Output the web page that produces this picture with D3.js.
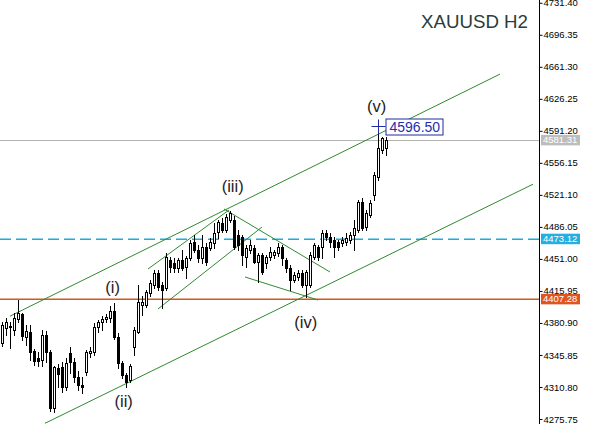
<!DOCTYPE html>
<html>
<head>
<meta charset="utf-8">
<script src="https://cdn.jsdelivr.net/npm/d3@7/dist/d3.min.js"></script>
<style>
  html, body { margin: 0; padding: 0; background: #fff; overflow: hidden; }
  svg { display: block; }
</style>
</head>
<body>
<svg id="chart" width="591" height="424"></svg>
<script>
// XAUUSD, 2-hour bars
const opens = [
  4358.95, 4375.37, 4376.46, 4373.18, 4385.22, 4390.69, 4365.52, 4370.99, 4350.19, 4342.53,
  4340.34, 4367.71, 4349.10, 4287.79, 4331.58, 4332.67, 4310.78, 4348.00, 4338.15, 4321.73,
  4312.97, 4327.20, 4348.00, 4349.10, 4376.46, 4381.94, 4385.22, 4386.32, 4393.98, 4365.52,
  4337.05, 4323.92, 4318.44, 4354.57, 4370.99, 4400.55, 4400.55, 4413.68, 4422.44, 4435.58,
  4422.44, 4419.16, 4449.81, 4446.52, 4441.05, 4449.81, 4442.15, 4452.00, 4469.51, 4460.75,
  4452.00, 4464.04, 4462.94, 4468.42, 4480.46, 4490.31, 4482.65, 4493.60, 4493.60, 4477.18,
  4474.99, 4453.09, 4460.75, 4462.94, 4447.62, 4455.28, 4446.52, 4453.09, 4455.28, 4457.47,
  4464.04, 4449.81, 4441.05, 4427.91, 4431.20, 4435.58, 4422.44, 4422.44, 4453.09, 4464.04,
  4464.04, 4479.36, 4474.99, 4471.70, 4469.51, 4468.42, 4469.51, 4471.70, 4477.18, 4482.65,
  4513.30, 4485.93, 4499.07, 4520.96, 4540.67, 4570.22, 4572.41
];
const highs = [
  4381.94, 4386.32, 4381.94, 4391.79, 4406.02, 4391.79, 4378.65, 4378.65, 4352.38, 4349.10,
  4373.18, 4372.08, 4351.28, 4333.77, 4335.96, 4338.15, 4342.53, 4354.57, 4342.53, 4328.30,
  4321.73, 4351.28, 4354.57, 4380.84, 4384.13, 4388.50, 4390.69, 4399.45, 4402.74, 4369.89,
  4339.24, 4326.11, 4335.96, 4376.46, 4422.44, 4410.40, 4416.97, 4427.91, 4438.86, 4438.86,
  4425.72, 4457.47, 4453.09, 4452.00, 4452.00, 4460.75, 4454.19, 4471.70, 4477.18, 4466.23,
  4477.18, 4468.42, 4473.89, 4490.31, 4493.60, 4495.79, 4500.16, 4503.45, 4497.97, 4482.65,
  4477.18, 4466.23, 4471.70, 4466.23, 4457.47, 4457.47, 4455.28, 4464.04, 4460.75, 4468.42,
  4466.23, 4452.00, 4444.33, 4436.67, 4438.86, 4438.86, 4438.86, 4458.57, 4468.42, 4466.23,
  4482.65, 4482.65, 4479.36, 4474.99, 4471.70, 4474.99, 4479.36, 4480.46, 4493.60, 4515.49,
  4517.68, 4504.54, 4515.49, 4546.14, 4596.50, 4584.46, 4584.46
];
const lows = [
  4355.66, 4367.71, 4353.47, 4367.71, 4381.94, 4362.23, 4356.76, 4340.34, 4334.86, 4333.77,
  4333.77, 4338.15, 4284.51, 4283.41, 4310.78, 4305.31, 4307.50, 4326.11, 4316.25, 4307.50,
  4304.21, 4323.92, 4343.62, 4345.81, 4370.99, 4373.18, 4381.94, 4381.94, 4363.33, 4331.58,
  4320.63, 4310.78, 4316.25, 4345.81, 4369.89, 4389.60, 4398.36, 4410.40, 4419.16, 4416.97,
  4397.26, 4416.97, 4436.67, 4436.67, 4436.67, 4438.86, 4430.10, 4449.81, 4458.57, 4447.62,
  4446.52, 4444.33, 4460.75, 4462.94, 4473.89, 4480.46, 4480.46, 4491.41, 4461.85, 4460.75,
  4444.33, 4442.15, 4457.47, 4446.52, 4425.72, 4434.48, 4441.05, 4449.81, 4452.00, 4454.19,
  4444.33, 4436.67, 4416.97, 4425.72, 4427.91, 4420.25, 4409.30, 4420.25, 4450.90, 4449.81,
  4452.00, 4471.70, 4464.04, 4453.09, 4460.75, 4465.13, 4466.23, 4468.42, 4460.75, 4480.46,
  4482.65, 4482.65, 4496.88, 4515.49, 4537.38, 4566.94, 4564.75
];
const closes = [
  4378.65, 4381.94, 4377.56, 4386.32, 4391.79, 4366.61, 4372.08, 4349.10, 4339.24, 4339.24,
  4367.71, 4349.10, 4287.79, 4332.67, 4325.01, 4310.78, 4337.05, 4338.15, 4321.73, 4312.97,
  4310.78, 4349.10, 4350.19, 4376.46, 4381.94, 4385.22, 4387.41, 4393.98, 4365.52, 4337.05,
  4323.92, 4316.25, 4333.77, 4373.18, 4403.83, 4403.83, 4414.78, 4424.63, 4435.58, 4420.25,
  4416.97, 4453.09, 4442.15, 4441.05, 4449.81, 4441.05, 4452.00, 4468.42, 4460.75, 4452.00,
  4464.04, 4447.62, 4469.51, 4479.36, 4491.41, 4482.65, 4496.88, 4501.26, 4464.04, 4466.23,
  4455.28, 4462.94, 4466.23, 4447.62, 4455.28, 4436.67, 4453.09, 4458.57, 4458.57, 4464.04,
  4452.00, 4441.05, 4427.91, 4433.39, 4435.58, 4422.44, 4436.67, 4455.28, 4466.23, 4453.09,
  4479.36, 4474.99, 4469.51, 4464.04, 4464.04, 4471.70, 4473.89, 4477.18, 4484.84, 4513.30,
  4484.84, 4501.26, 4512.21, 4542.86, 4572.41, 4583.36, 4581.31
];

// price axis ticks
const priceTicks = [4275.75, 4310.80, 4345.85, 4380.90, 4415.95, 4451.00, 4486.05,
                    4521.10, 4556.15, 4591.20, 4626.25, 4661.30, 4696.35, 4731.40];

// trend lines: [bar index, price] -> [bar index, price]
const channelUpper = [[2.075, 4388.29], [124.575, 4653.31]];
const channelLower = [[10.825, 4271.04], [132.825, 4532.79]];
const wave3Upper   = [[36.575, 4439.96], [56.825, 4504.54]];
const wave3Lower   = [[39.075, 4396.17], [65.075, 4485.93]];
const wave4Upper   = [[55.575, 4505.64], [82.075, 4436.67]];
const wave4Lower   = [[60.825, 4431.20], [79.075, 4406.02]];

// horizontal levels
const levelNames  = ["bid", "pivot", "support"];
const levelPrices = [4581.31, 4473.12, 4407.28];

// Elliott wave counts and their pivot bars
const waveLabels = ["(i)", "(ii)", "(iii)", "(iv)", "(v)"];
const waveBars   = [28, 31, 57, 76, 94];
const waveSides  = ["high", "low", "high", "low", "high"];

const symbolTitle = "XAUUSD H2";

// ---------------------------------------------------------------
const W = 591, H = 424, axisX = 539;
const svg = d3.select("#chart");

const x = d3.scaleLinear().domain([0, opens.length - 1]).range([1.7, 385.7]);
const y = d3.scaleLinear().domain([4275.75, 4731.40]).range([419, 2.77]);

svg.append("rect").attr("width", W).attr("height", H).attr("fill", "#ffffff");

svg.append("defs").append("clipPath").attr("id", "plot")
  .append("rect").attr("x", 0).attr("y", 0).attr("width", axisX).attr("height", H);

const plot = svg.append("g").attr("clip-path", "url(#plot)");

// horizontal levels
const levelStyle = {
  bid:     { color: "#b4b4b4", dash: null,   width: 1,   off: 0.5 },
  pivot:   { color: "#1aabe2", dash: "11,5", width: 1.5, off: 0.25 },
  support: { color: "#d6561c", dash: null,   width: 1.5, off: 0.25 }
};
levelPrices.forEach((p, k) => {
  const st = levelStyle[levelNames[k]];
  const yy = Math.round(y(p)) + st.off;
  plot.append("line")
    .attr("x1", 0).attr("x2", axisX).attr("y1", yy).attr("y2", yy)
    .attr("stroke", st.color).attr("stroke-width", st.width)
    .attr("stroke-dasharray", st.dash);
});

// trend lines
const lineGreen = "#2f8a2f";
[channelUpper, channelLower, wave3Upper, wave3Lower, wave4Upper, wave4Lower].forEach(seg => {
  plot.append("line")
    .attr("x1", x(seg[0][0])).attr("y1", y(seg[0][1]))
    .attr("x2", x(seg[1][0])).attr("y2", y(seg[1][1]))
    .attr("stroke", lineGreen).attr("stroke-width", 1);
});

// candles
const bars = d3.range(opens.length).map(i => ({
  i, o: opens[i], h: highs[i], l: lows[i], c: closes[i]
}));
const candles = plot.append("g");
bars.forEach(b => {
  const cx = Math.round(x(b.i));
  candles.append("line")
    .attr("x1", cx + 0.5).attr("x2", cx + 0.5)
    .attr("y1", Math.round(y(b.h))).attr("y2", Math.round(y(b.l)) + 1)
    .attr("stroke", "#000").attr("stroke-width", 1);
  const top = Math.round(y(Math.max(b.o, b.c)));
  const bot = Math.round(y(Math.min(b.o, b.c)));
  const up = b.c >= b.o;
  candles.append("rect")
    .attr("x", cx - 0.5).attr("y", top + 0.5)
    .attr("width", 2).attr("height", Math.max(0, bot - top))
    .attr("fill", up ? "#ffffff" : "#000000")
    .attr("stroke", "#000").attr("stroke-width", 1);
});

// wave labels
const labelShift = { "(i)": [-1, -10], "(ii)": [-2, 20], "(iii)": [3, -19], "(iv)": [0, 31], "(v)": [-1, -14] };
waveLabels.forEach((t, k) => {
  const i = waveBars[k];
  const p = waveSides[k] === "high" ? highs[i] : lows[i];
  const s = labelShift[t];
  plot.append("text")
    .attr("x", x(i) + s[0]).attr("y", y(p) + s[1])
    .attr("text-anchor", "middle")
    .attr("font-family", "'Liberation Sans', Arial, sans-serif")
    .attr("font-size", 16.5).attr("fill", "#222")
    .text(t);
});

// marker at the top of wave (v)
const vi = waveBars[4], vp = highs[vi];
const mx = Math.round(x(vi)) + 0.5, my = Math.round(y(vp)) + 0.5;
const markBlue = "#1d2b9f";
plot.append("line").attr("x1", mx - 7).attr("x2", mx + 7).attr("y1", my).attr("y2", my)
  .attr("stroke", markBlue).attr("stroke-width", 1);
plot.append("line").attr("x1", mx).attr("x2", mx).attr("y1", my - 7).attr("y2", my + 8)
  .attr("stroke", markBlue).attr("stroke-width", 1);
plot.append("rect").attr("x", mx + 7.5).attr("y", my - 7.5).attr("width", 57).attr("height", 16)
  .attr("fill", "#fff").attr("stroke", markBlue).attr("stroke-width", 1);
plot.append("text").attr("x", mx + 11).attr("y", my + 5.5)
  .attr("font-family", "'Liberation Sans', Arial, sans-serif")
  .attr("font-size", 14).attr("fill", "#1f2fb0")
  .text(d3.format(".2f")(vp));

// title
svg.append("text").attr("x", 528).attr("y", 28).attr("text-anchor", "end")
  .attr("font-family", "'Liberation Sans', Arial, sans-serif")
  .attr("font-size", 18.7).attr("fill", "#2a3c3c")
  .text(symbolTitle);

// price axis
const axis = d3.axisRight(y).tickValues(priceTicks).tickSize(3).tickPadding(1)
  .tickFormat(d3.format(".2f"));
const ag = svg.append("g").attr("transform", `translate(${axisX + 0.5},0)`).call(axis);
ag.select(".domain").remove();
ag.selectAll(".tick line").attr("stroke", "#000");
ag.selectAll(".tick text")
  .attr("font-family", "'Liberation Sans', Arial, sans-serif")
  .attr("font-size", 9.5).attr("fill", "#000");
svg.append("line").attr("x1", axisX + 0.5).attr("x2", axisX + 0.5).attr("y1", 0).attr("y2", H)
  .attr("stroke", "#000").attr("stroke-width", 1);

// level tags on the axis
const tagFill = { bid: "#bdbdbd", pivot: "#25aee0", support: "#df5420" };
levelPrices.forEach((p, k) => {
  const yy = y(p);
  svg.append("rect").attr("x", axisX + 2).attr("y", yy - 5).attr("width", 39).attr("height", 10.5)
    .attr("fill", tagFill[levelNames[k]]);
  svg.append("text").attr("x", axisX + 4).attr("y", yy).attr("dy", "0.35em")
    .attr("font-family", "'Liberation Sans', Arial, sans-serif")
    .attr("font-size", 9.5).attr("fill", "#fff")
    .text(d3.format(".2f")(p));
});
</script>
</body>
</html>
